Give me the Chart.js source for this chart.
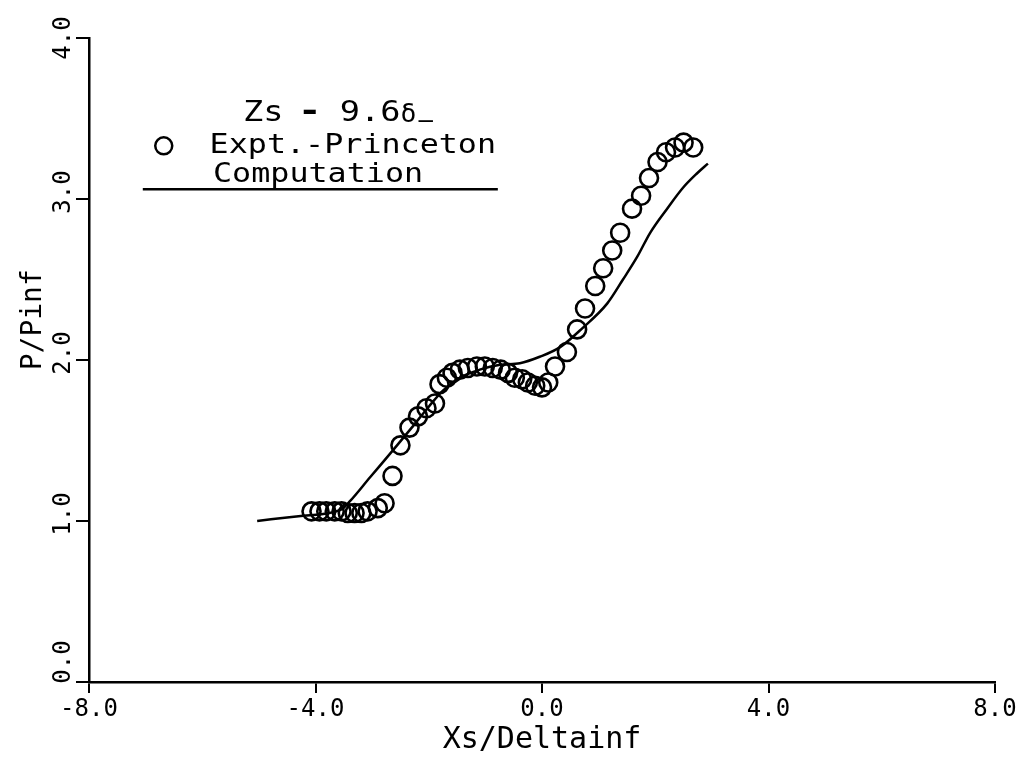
<!DOCTYPE html>
<html>
  <head>
    <title>P/Pinf vs Xs/Deltainf</title>
    <script src="https://cdn.jsdelivr.net/npm/chart.js"></script>
    <style>
      body { margin: 0; background: #fff; }
    </style>
  </head>
  <body>
    <canvas id="chart" width="1027" height="769"></canvas>

    <script>
      // tick labels
      const xTicks = [-8, -4, 0, 4, 8];
      const yTicks = [0, 1, 2, 3, 4];

      const exptX = [-4.07, -3.93, -3.81, -3.66, -3.54, -3.43, -3.31, -3.19, -3.08, -2.90, -2.78, -2.64, -2.50, -2.34, -2.19, -2.04, -1.89, -1.81, -1.68, -1.58, -1.45, -1.31, -1.15, -1.01, -0.87, -0.73, -0.60, -0.48, -0.35, -0.25, -0.12, 0.00, 0.11, 0.23, 0.44, 0.62, 0.76, 0.94, 1.08, 1.24, 1.38, 1.59, 1.75, 1.89, 2.04, 2.19, 2.35, 2.50, 2.67];
      const exptY = [1.06, 1.06, 1.06, 1.06, 1.06, 1.05, 1.05, 1.05, 1.06, 1.08, 1.11, 1.28, 1.47, 1.58, 1.65, 1.70, 1.73, 1.85, 1.89, 1.92, 1.94, 1.95, 1.96, 1.96, 1.95, 1.94, 1.92, 1.89, 1.88, 1.86, 1.84, 1.83, 1.86, 1.96, 2.05, 2.19, 2.32, 2.46, 2.57, 2.68, 2.79, 2.94, 3.02, 3.13, 3.23, 3.29, 3.32, 3.35, 3.32];

      // computation (line)
      const compX = [-5.03, -4.30, -3.55, -3.40, -3.04, -2.63, -2.30, -2.00, -1.75, -1.45, -1.10, -0.74, -0.39, -0.04, 0.32, 0.72, 1.15, 1.43, 1.68, 1.91, 2.21, 2.49, 2.74, 2.93];
      const compY = [1.00, 1.03, 1.07, 1.12, 1.27, 1.44, 1.58, 1.71, 1.81, 1.89, 1.94, 1.97, 1.98, 2.02, 2.08, 2.20, 2.35, 2.50, 2.64, 2.79, 2.94, 3.07, 3.16, 3.22];

      const MONO = '"DejaVu Sans Mono", monospace';

      // text with a bit of horizontal stretch, like the plotter lettering
      function drawText(ctx, text, x, y, size, sx, align, weight) {
        ctx.save();
        ctx.font = (weight || 'normal') + ' ' + size + 'px ' + MONO;
        ctx.textBaseline = 'middle';
        ctx.textAlign = align || 'left';
        ctx.translate(x, y);
        ctx.scale(sx, 1);
        ctx.fillText(text, 0, 0);
        ctx.restore();
      }

      // y tick labels, axis titles and the legend box
      const annotations = {
        id: 'annotations',
        afterDraw(chart) {
          const ctx = chart.ctx;
          const xs = chart.scales.x;
          const ys = chart.scales.y;
          ctx.save();
          ctx.fillStyle = '#000';
          ctx.strokeStyle = '#000';

          // rotated y tick labels (sit a little above their ticks)
          yTicks.forEach(v => {
            let shift = -7;
            if (v === 0) shift = -20;
            if (v === 4) shift = 0;
            ctx.save();
            ctx.translate(64, ys.getPixelForValue(v) + shift);
            ctx.rotate(-Math.PI / 2);
            drawText(ctx, v.toFixed(1), 0, 0, 24, 1, 'center');
            ctx.restore();
          });

          // y title
          ctx.save();
          ctx.translate(34, ys.getPixelForValue(2.25));
          ctx.rotate(-Math.PI / 2);
          drawText(ctx, 'P/Pinf', 0, 0, 28, 1, 'center');
          ctx.restore();

          // x title
          drawText(ctx, 'Xs/Deltainf', xs.getPixelForValue(0), 740, 30, 1, 'center');

          // legend
          const fs = 26, sx = 1.22;
          const zy = ys.getPixelForValue(3.53);
          drawText(ctx, 'Zs', xs.getPixelForValue(-5.28), zy, 28, 1.2, 'left');
          drawText(ctx, '-', xs.getPixelForValue(-4.10), zy, 30, 1.3, 'center', 'bold');
          drawText(ctx, '9.6', xs.getPixelForValue(-3.57), zy, 28, 1.2, 'left');
          drawText(ctx, 'δ', xs.getPixelForValue(-2.50), zy + 2, 24, 1.1, 'left');
          drawText(ctx, '_', xs.getPixelForValue(-2.18), zy - 2, 20, 1.2, 'left', 'bold');
          ctx.lineWidth = 2.5;
          ctx.beginPath();
          ctx.arc(xs.getPixelForValue(-6.68), ys.getPixelForValue(3.33), 8.5, 0, Math.PI * 2);
          ctx.stroke();
          drawText(ctx, 'Expt.-Princeton', xs.getPixelForValue(-5.87), ys.getPixelForValue(3.33), fs, sx, 'left');
          drawText(ctx, 'Computation', xs.getPixelForValue(-5.81), ys.getPixelForValue(3.15), fs, sx, 'left');
          ctx.lineWidth = 2.5;
          ctx.beginPath();
          ctx.moveTo(xs.getPixelForValue(-7.05), ys.getPixelForValue(3.06));
          ctx.lineTo(xs.getPixelForValue(-0.78), ys.getPixelForValue(3.06));
          ctx.stroke();

          ctx.restore();
        }
      };

      const ctx = document.getElementById('chart').getContext('2d');

      const chart = new Chart(ctx, {
        data: {
          datasets: [
            {
              type: 'line',
              label: 'Computation',
              data: compX.map((x, i) => ({ x: x, y: compY[i] })),
              borderColor: '#000',
              borderWidth: 2.5,
              pointRadius: 0,
              cubicInterpolationMode: 'monotone',
              fill: false
            },
            {
              type: 'scatter',
              label: 'Expt.-Princeton',
              data: exptX.map((x, i) => ({ x: x, y: exptY[i] })),
              borderColor: '#000',
              backgroundColor: 'rgba(0,0,0,0)',
              borderWidth: 2.6,
              pointRadius: 9,
              pointStyle: 'circle'
            }
          ]
        },
        options: {
          responsive: false,
          animation: false,
          layout: { padding: { top: 38, right: 32, left: 0, bottom: 0 } },
          plugins: {
            legend: { display: false },
            tooltip: { enabled: false }
          },
          scales: {
            x: {
              type: 'linear',
              min: -8,
              max: 8,
              afterBuildTicks: s => { s.ticks = xTicks.map(v => ({ value: v })); },
              afterFit: s => { s.height = 87; },
              border: { display: true, color: '#000', width: 2.5 },
              grid: { drawOnChartArea: false, drawTicks: true, tickLength: 11, color: '#000', lineWidth: 2 },
              ticks: {
                color: '#000',
                font: { family: MONO, size: 24 },
                padding: 2,
                maxRotation: 0,
                callback: v => v.toFixed(1)
              }
            },
            y: {
              type: 'linear',
              min: 0,
              max: 4,
              afterBuildTicks: s => { s.ticks = yTicks.map(v => ({ value: v })); },
              afterFit: s => { s.width = 89; },
              border: { display: true, color: '#000', width: 2.5 },
              grid: { drawOnChartArea: false, drawTicks: true, tickLength: 13, color: '#000', lineWidth: 2 },
              ticks: { display: false }
            }
          }
        },
        plugins: [annotations]
      });
    </script>
  </body>
</html>
